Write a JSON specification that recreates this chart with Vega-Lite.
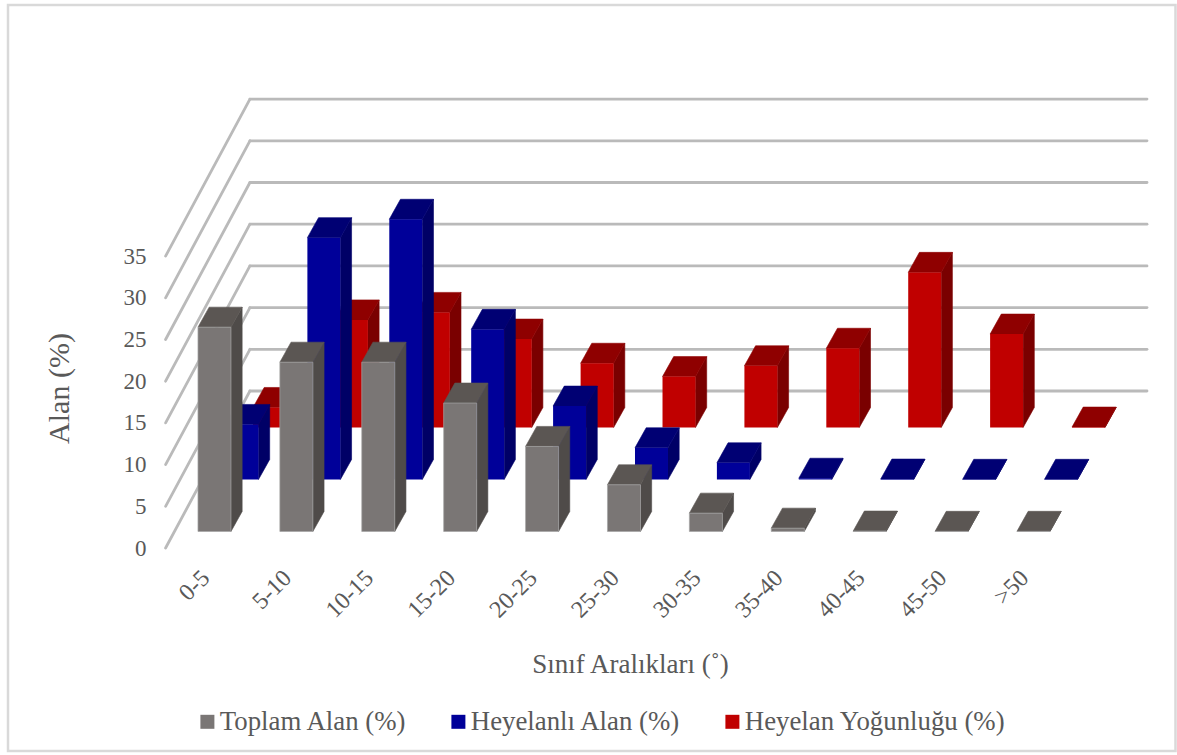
{
"$schema":"https://vega.github.io/schema/vega-lite/v6.json",
"width":1167.5,"height":746,
"autosize":{"type":"none"},
"padding":{"left":8,"top":5,"right":1,"bottom":4},
"background":"white",
"config":{"view":{"stroke":"#d9d9d9","strokeWidth":2.5},"font":"Liberation Serif"},
"datasets":{
"bars":[
{"cat":"0-5","series":"Toplam Alan (%)","value":24.5},{"cat":"5-10","series":"Toplam Alan (%)","value":20.3},{"cat":"10-15","series":"Toplam Alan (%)","value":20.3},{"cat":"15-20","series":"Toplam Alan (%)","value":15.4},{"cat":"20-25","series":"Toplam Alan (%)","value":10.2},{"cat":"25-30","series":"Toplam Alan (%)","value":5.6},{"cat":"30-35","series":"Toplam Alan (%)","value":2.2},{"cat":"35-40","series":"Toplam Alan (%)","value":0.4},{"cat":"40-45","series":"Toplam Alan (%)","value":0.05},{"cat":"45-50","series":"Toplam Alan (%)","value":0.02},{"cat":">50","series":"Toplam Alan (%)","value":0.02},
{"cat":"0-5","series":"Heyelanlı Alan (%)","value":6.6},{"cat":"5-10","series":"Heyelanlı Alan (%)","value":29.0},{"cat":"10-15","series":"Heyelanlı Alan (%)","value":31.2},{"cat":"15-20","series":"Heyelanlı Alan (%)","value":18.0},{"cat":"20-25","series":"Heyelanlı Alan (%)","value":8.8},{"cat":"25-30","series":"Heyelanlı Alan (%)","value":3.8},{"cat":"30-35","series":"Heyelanlı Alan (%)","value":2.0},{"cat":"35-40","series":"Heyelanlı Alan (%)","value":0.15},{"cat":"40-45","series":"Heyelanlı Alan (%)","value":0.05},{"cat":"45-50","series":"Heyelanlı Alan (%)","value":0.02},{"cat":">50","series":"Heyelanlı Alan (%)","value":0.02},
{"cat":"0-5","series":"Heyelan Yoğunluğu (%)","value":2.4},{"cat":"5-10","series":"Heyelan Yoğunluğu (%)","value":12.9},{"cat":"10-15","series":"Heyelan Yoğunluğu (%)","value":13.8},{"cat":"15-20","series":"Heyelan Yoğunluğu (%)","value":10.6},{"cat":"20-25","series":"Heyelan Yoğunluğu (%)","value":7.7},{"cat":"25-30","series":"Heyelan Yoğunluğu (%)","value":6.1},{"cat":"30-35","series":"Heyelan Yoğunluğu (%)","value":7.4},{"cat":"35-40","series":"Heyelan Yoğunluğu (%)","value":9.5},{"cat":"40-45","series":"Heyelan Yoğunluğu (%)","value":18.6},{"cat":"45-50","series":"Heyelan Yoğunluğu (%)","value":11.2},{"cat":">50","series":"Heyelan Yoğunluğu (%)","value":0.05}
],
"ticks":[{"tick":0},{"tick":5},{"tick":10},{"tick":15},{"tick":20},{"tick":25},{"tick":30},{"tick":35}]
},
"layer":[
{"data":{"name":"ticks"},
 "mark":{"type":"rule","color":"#bababa","strokeWidth":2.8,"strokeCap":"round","y2Offset":-157},
 "encoding":{
  "x":{"datum":-0.597,"type":"quantitative","scale":{"domain":[-2.521,11.734],"nice":false,"zero":false},
    "axis":{"values":[0,1,2,3,4,5,6,7,8,9,10],"labelExpr":"['0-5','5-10','10-15','15-20','20-25','25-30','30-35','35-40','40-45','45-50','>50'][datum.value]","labelAngle":-45,"labelAlign":"right","labelBaseline":"middle","labelPadding":8,"labelOffset":-9,"labelFontSize":24,"labelColor":"#595959","labelFont":"Liberation Serif","offset":-185,"domain":false,"ticks":false,"grid":false,"title":"Sınıf Aralıkları (˚)","titleFontSize":27,"titleFontWeight":"normal","titleColor":"#595959","titleFont":"Liberation Serif","titleX":622,"titleY":85,"labelOverlap":false,"labelBound":false,"labelFlush":false}},
  "x2":{"datum":0.433},
  "y":{"field":"tick","type":"quantitative","scale":{"domain":[-24.34,65.11],"nice":false,"zero":false},
    "axis":{"values":[0,5,10,15,20,25,30,35],"offset":-138,"domain":false,"ticks":false,"grid":false,"labelPadding":0,"labelFontSize":23,"labelColor":"#595959","labelFont":"Liberation Serif","title":"Alan (%)","titleFontSize":30,"titleFontWeight":"normal","titleColor":"#595959","titleFont":"Liberation Serif","titleX":-72,"titleY":383,"titleAnchor":"middle"}},
  "y2":{"field":"tick"}
 }},
{"data":{"name":"ticks"},
 "mark":{"type":"rule","color":"#bababa","strokeWidth":2.8,"strokeCap":"round","yOffset":-157,"y2Offset":-157},
 "encoding":{"x":{"datum":0.433,"type":"quantitative"},"x2":{"datum":11.386},"y":{"field":"tick","type":"quantitative"},"y2":{"field":"tick"}}},
{"data":{"name":"bars"},
 "transform":[
  {"calculate":"indexof(['0-5','5-10','10-15','15-20','20-25','25-30','30-35','35-40','40-45','45-50','>50'],datum.cat)","as":"i"},
  {"calculate":"indexof(['Toplam Alan (%)','Heyelanlı Alan (%)','Heyelan Yoğunluğu (%)'],datum.series)","as":"d"},
  {"calculate":"[0,1]","as":"edge"},
  {"flatten":["edge"]},
  {"calculate":"datum.i-0.2015+0.336*datum.d","as":"xL"},
  {"calculate":"datum.xL+0.403","as":"xR"},
  {"calculate":"1.98+6.235*datum.d","as":"base"},
  {"calculate":"datum.base+datum.value","as":"top"},
  {"calculate":"datum.xR+0.1365*datum.edge","as":"sx"},
  {"calculate":"datum.xL+0.1365*datum.edge","as":"tx"},
  {"calculate":"datum.xR+0.1365*datum.edge","as":"tx2"},
  {"calculate":"datum.top+2.4*datum.edge","as":"ty"},
  {"calculate":"datum.base+2.4*datum.edge","as":"by"}
 ],
 "layer":[
  {"transform":[{"filter":"datum.d==2"}],"mark":{"type":"area","orient":"vertical","color":"#7a0000","stroke":"#7a0000","strokeWidth":0.6},"encoding":{"x":{"field":"sx","type":"quantitative"},"y":{"field":"ty","type":"quantitative"},"y2":{"field":"by"},"detail":{"field":"cat"}}},
  {"transform":[{"filter":"datum.d==2"}],"mark":{"type":"area","orient":"horizontal","color":"#8f0000","stroke":"#8f0000","strokeWidth":0.6},"encoding":{"y":{"field":"ty","type":"quantitative"},"x":{"field":"tx","type":"quantitative"},"x2":{"field":"tx2"},"detail":{"field":"cat"}}},
  {"transform":[{"filter":"datum.d==2 && datum.edge==0"}],"mark":{"type":"rect"},"encoding":{"x":{"field":"xL","type":"quantitative"},"x2":{"field":"xR"},"y":{"field":"base","type":"quantitative"},"y2":{"field":"top"},
    "color":{"field":"series","type":"nominal","scale":{"domain":["Toplam Alan (%)","Heyelanlı Alan (%)","Heyelan Yoğunluğu (%)"],"range":["#7a7675","#000099","#c00000"]},
      "legend":{"orient":"none","legendX":186,"legendY":703,"direction":"horizontal","title":null,"symbolType":"square","symbolSize":196,"symbolStrokeWidth":0,"labelFontSize":26.8,"labelColor":"#595959","labelFont":"Liberation Serif","columnPadding":38,"labelOffset":-1,"columns":3,"labelLimit":400}}}},
  {"transform":[{"filter":"datum.d==1"}],"mark":{"type":"area","orient":"vertical","color":"#000066","stroke":"#000066","strokeWidth":0.6},"encoding":{"x":{"field":"sx","type":"quantitative"},"y":{"field":"ty","type":"quantitative"},"y2":{"field":"by"},"detail":{"field":"cat"}}},
  {"transform":[{"filter":"datum.d==1"}],"mark":{"type":"area","orient":"horizontal","color":"#000073","stroke":"#000073","strokeWidth":0.6},"encoding":{"y":{"field":"ty","type":"quantitative"},"x":{"field":"tx","type":"quantitative"},"x2":{"field":"tx2"},"detail":{"field":"cat"}}},
  {"transform":[{"filter":"datum.d==1 && datum.edge==0"}],"mark":{"type":"rect"},"encoding":{"x":{"field":"xL","type":"quantitative"},"x2":{"field":"xR"},"y":{"field":"base","type":"quantitative"},"y2":{"field":"top"},"color":{"field":"series","type":"nominal"}}},
  {"transform":[{"filter":"datum.d==0"}],"mark":{"type":"area","orient":"vertical","color":"#4f4b49","stroke":"#4f4b49","strokeWidth":0.6},"encoding":{"x":{"field":"sx","type":"quantitative"},"y":{"field":"ty","type":"quantitative"},"y2":{"field":"by"},"detail":{"field":"cat"}}},
  {"transform":[{"filter":"datum.d==0"}],"mark":{"type":"area","orient":"horizontal","color":"#5b5653","stroke":"#5b5653","strokeWidth":0.6},"encoding":{"y":{"field":"ty","type":"quantitative"},"x":{"field":"tx","type":"quantitative"},"x2":{"field":"tx2"},"detail":{"field":"cat"}}},
  {"transform":[{"filter":"datum.d==0 && datum.edge==0"}],"mark":{"type":"rect","stroke":"#a5a5a5","strokeWidth":0.7},"encoding":{"x":{"field":"xL","type":"quantitative"},"x2":{"field":"xR"},"y":{"field":"base","type":"quantitative"},"y2":{"field":"top"},"color":{"field":"series","type":"nominal"}}}
 ]}
]
}
